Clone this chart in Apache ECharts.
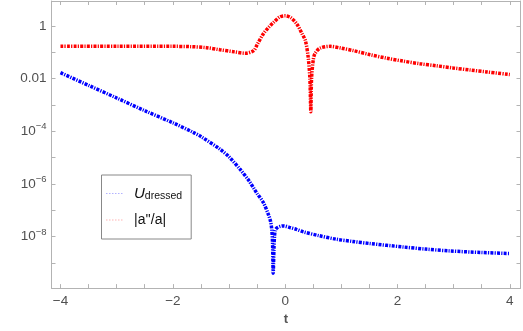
<!DOCTYPE html>
<html>
<head>
<meta charset="utf-8">
<script src="https://cdn.jsdelivr.net/npm/echarts@6/dist/echarts.min.js"></script>
<style>
  html, body { margin: 0; padding: 0; background: #fff; }
  #chart { width: 523px; height: 331px; }
</style>
</head>
<body>
<div id="chart"></div>
<script>
// t samples and log10 of the values
const tU = [-4.0, -3.5, -3.0, -2.5, -2.0, -1.63, -1.5, -1.16, -1.0, -0.8, -0.65, -0.56, -0.5, -0.39, -0.3,
  -0.26, -0.24, -0.225, -0.213, -0.2, -0.19, -0.175, -0.14, -0.09, -0.03, 0.1, 0.2, 0.33, 0.6, 0.92, 1.2,
  1.51, 2.1, 2.5, 2.93, 3.5, 4.0]
const uDressedExp = [-1.78, -2.26, -2.74, -3.22, -3.68, -4.05, -4.2, -4.68, -4.97, -5.45, -5.86, -6.16, -6.36, -6.7, -7.15,
  -7.42, -7.7, -8.2, -9.39, -8.5, -8.0, -7.75, -7.66, -7.61, -7.59, -7.66, -7.72, -7.82, -7.96, -8.10, -8.18,
  -8.26, -8.39, -8.47, -8.54, -8.6, -8.64]

const tA = [-4.0, -3.0, -2.0, -1.7, -1.4, -1.16, -0.9, -0.71, -0.56, -0.5, -0.39, -0.3, -0.21, -0.1, 0, 0.1,
  0.21, 0.3, 0.36, 0.41, 0.44, 0.457, 0.47, 0.5, 0.53, 0.62, 0.8, 1.0, 1.21, 1.5, 1.81, 2.1, 2.4, 2.7, 2.99,
  3.3, 3.59, 4.0]
const aRatioExp = [-0.78, -0.78, -0.78, -0.79, -0.83, -0.91, -0.99, -1.04, -0.94, -0.72, -0.31, -0.07, 0.12, 0.33, 0.38, 0.31,
  0.06, -0.3, -0.56, -1.19, -2.0, -3.26, -2.0, -1.3, -1.06, -0.85, -0.78, -0.85, -0.94, -1.09, -1.23, -1.34, -1.44, -1.52, -1.60,
  -1.68, -1.75, -1.85]

const xTicks = [-4, -3.5, -3, -2.5, -2, -1.5, -1, -0.5, 0, 0.5, 1, 1.5, 2, 2.5, 3, 3.5, 4]
const xLabels = [-4, -2, 0, 2, 4]
const yTickExp = [0, -1, -2, -3, -4, -5, -6, -7, -8, -9]
const yLabelExp = [0, -2, -4, -6, -8]

const axisGray = '#b3b3b3'
const textGray = '#505050'
const yMin = Math.pow(10, -9.95)
const yMax = Math.pow(10, 0.94)

const yTicks = yTickExp.map(e => Math.pow(10, e))
const yLabels = yLabelExp.map(e => Math.pow(10, e))

function toPairs(ts, exps) {
  return ts.map((t, i) => [t, Math.pow(10, exps[i])])
}

function yFmt(v) {
  const e = Math.round(Math.log10(v))
  if (e === 0) return '1'
  if (e === -2) return '0.01'
  return '10{sup|\u2212' + (-e) + '}'
}

const chart = echarts.init(document.getElementById('chart'))
const option = {
  backgroundColor: '#fff',
  animation: false,
  grid: { left: 51.5, right: 2.5, top: 1, bottom: 41 },
  legend: {
    orient: 'vertical',
    left: 101.5,
    top: 175,
    padding: [11, 9, 12, 4],
    itemGap: 11,
    itemWidth: 18,
    itemHeight: 14,
    backgroundColor: '#fff',
    borderColor: '#888',
    borderWidth: 1,
    borderRadius: 0,
    itemStyle: { opacity: 0 },
    lineStyle: { width: 1, type: [1.5, 1.5], opacity: 0.3 },
    textStyle: {
      color: '#111',
      fontFamily: 'Liberation Sans',
      fontSize: 14,
      rich: {
        u: { fontSize: 15, fontStyle: 'italic', fontFamily: 'Liberation Sans', padding: [0, 0, 0, 5], color: '#111' },
        sub: { fontSize: 10.5, fontFamily: 'Liberation Sans', padding: [6, 0, 0, 0], color: '#111' },
        a: { fontSize: 14, fontFamily: 'Liberation Sans', padding: [0, 0, 0, 5], color: '#111' }
      }
    },
    formatter: function (name) {
      if (name === 'U') return '{u|U}{sub|dressed}'
      return '{a|' + name + '}'
    },
    data: ['U', '|a\'\'/a|']
  },
  xAxis: [{
    type: 'value',
    min: -4.16,
    max: 4.19,
    position: 'bottom',
    name: 't',
    nameLocation: 'middle',
    nameGap: 21,
    nameTextStyle: { color: '#555', fontSize: 13, fontWeight: 'bold', fontFamily: 'Liberation Sans' },
    axisLine: { show: true, onZero: false, lineStyle: { color: axisGray } },
    axisTick: { show: true, inside: true, length: 4, customValues: xTicks, lineStyle: { color: axisGray } },
    axisLabel: {
      customValues: xLabels,
      margin: 6,
      color: textGray,
      fontSize: 13.5,
      fontFamily: 'Liberation Sans',
      formatter: v => String(v).replace('-', '\u2212')
    },
    splitLine: { show: false }
  }, {
    type: 'value',
    min: -4.16,
    max: 4.19,
    position: 'top',
    axisLine: { show: true, onZero: false, lineStyle: { color: axisGray } },
    axisTick: { show: true, inside: true, length: 4, customValues: xTicks, lineStyle: { color: axisGray } },
    axisLabel: { show: false },
    splitLine: { show: false }
  }],
  yAxis: [{
    type: 'log',
    logBase: 10,
    min: yMin,
    max: yMax,
    position: 'left',
    axisLine: { show: true, onZero: false, lineStyle: { color: axisGray } },
    axisTick: { show: true, inside: true, length: 4, customValues: yTicks, lineStyle: { color: axisGray } },
    axisLabel: {
      customValues: yLabels,
      margin: 5,
      color: textGray,
      fontSize: 13.5,
      fontFamily: 'Liberation Sans',
      formatter: yFmt,
      rich: {
        sup: { fontSize: 9.5, color: textGray, fontFamily: 'Liberation Sans', padding: [0, 0, 9, 0] }
      }
    },
    splitLine: { show: false }
  }, {
    type: 'log',
    logBase: 10,
    min: yMin,
    max: yMax,
    position: 'right',
    axisLine: { show: true, onZero: false, lineStyle: { color: axisGray } },
    axisTick: { show: true, inside: true, length: 4, customValues: yTicks, lineStyle: { color: axisGray } },
    axisLabel: { show: false },
    splitLine: { show: false }
  }],
  series: [{
    name: 'U',
    type: 'line',
    symbol: 'none',
    smooth: 0.3,
    color: '#0000ff',
    lineStyle: { color: '#0000ff', width: 3.5, type: [3, 1.2, 1.2, 1.2], cap: 'butt' },
    data: toPairs(tU, uDressedExp)
  }, {
    name: '|a\'\'/a|',
    type: 'line',
    symbol: 'none',
    smooth: 0.3,
    color: '#ff0000',
    lineStyle: { color: '#ff0000', width: 3.5, type: [3, 1.2, 1.2, 1.2], cap: 'butt' },
    data: toPairs(tA, aRatioExp)
  }]
}
chart.setOption(option)
</script>
</body>
</html>
